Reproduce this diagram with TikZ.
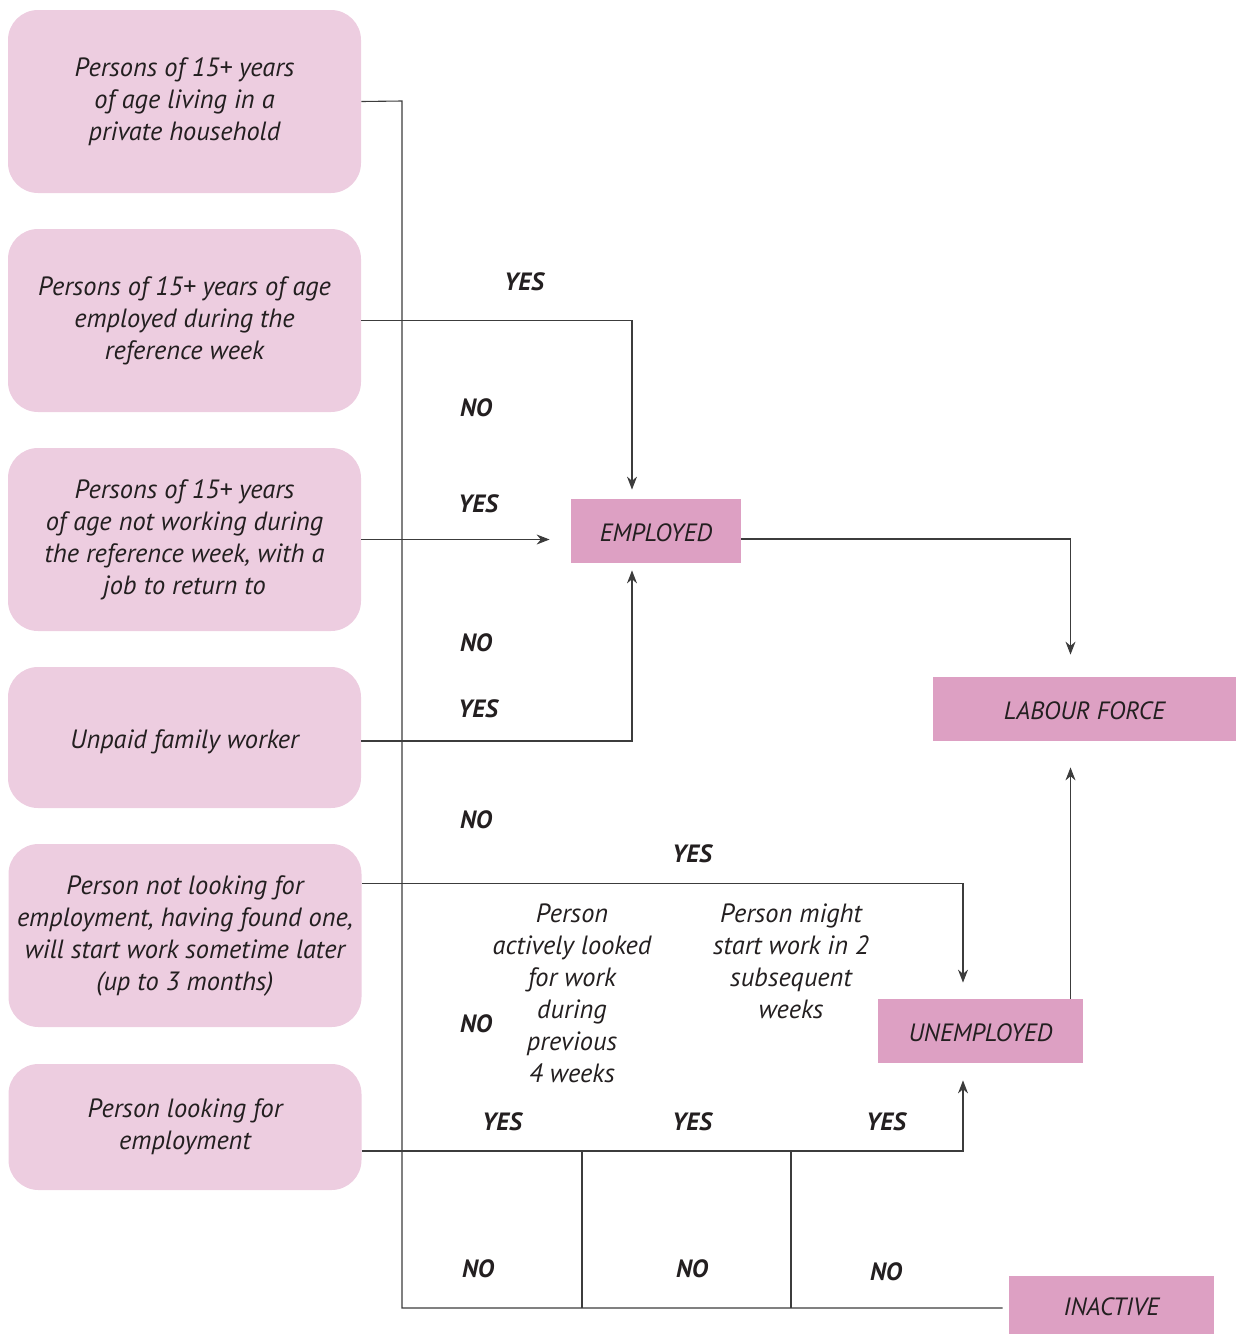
\documentclass[tikz,border=0pt]{standalone}
\usepackage{fontspec}
\setmainfont{PT Sans}
\usetikzlibrary{arrows.meta,positioning}
\definecolor{qpink}{HTML}{EDCDE0}
\definecolor{spink}{HTML}{DDA0C3}
\definecolor{ink}{HTML}{231F20}
\definecolor{wire}{HTML}{3C3C3C}
\tikzset{
	x=0.5pt, y=-0.5pt, semithick,
	question/.style ={rounded corners=15pt, fill=qpink, text=ink, align=center,
		minimum width=176.5pt, inner sep=2pt, execute at begin node={\rule{0pt}{13.5pt}},
		font=\itshape\fontsize{13.2}{16}\selectfont},
	status/.style ={fill=spink, text=ink, minimum height=32pt, text height=11pt, text depth=0.2pt,
		font=\itshape\fontsize{12.5}{14}\selectfont},
	ans/.style = {text=ink, font=\bfseries\itshape\fontsize{12.5}{14}\selectfont},
	note/.style = {text=ink, align=center, font=\itshape\fontsize{13.2}{16}\selectfont},
	wire/.style = {draw=wire, line width=0.55pt},
	arr/.style = {wire, -{Stealth[length=6.5pt,width=5pt]}}
}
\begin{document}
\begin{tikzpicture}
    \useasboundingbox (0,0) rectangle (1236,1334);

    % question boxes
    \node[question, minimum height=91.5pt] (b1) at (184.5,101.5) {Persons of 15+ years\\of age living in a\\private household};
    \node[question, minimum height=91.5pt] (b2) at (184.5,320.5) {Persons of 15+ years of age\\employed during the\\reference week};
    \node[question, minimum height=91.5pt] (b3) at (184.5,539.5) {Persons of 15+ years\\of age not working during\\the reference week, with a\\job to return to};
    \node[question, minimum height=70.5pt] (b4) at (184.5,737.5) {Unpaid family worker};
    \node[question, minimum height=91.5pt] (b5) at (185,935.5) {Person not looking for\\employment, having found one,\\will start work sometime later\\(up to 3 months)};
    \node[question, minimum height=63pt] (b6) at (185,1127) {Person looking for\\employment};

    % status boxes
    \node[status, minimum width=85pt] (emp) at (656,531) {EMPLOYED};
    \node[status, minimum width=151.5pt] (lab) at (1084.5,709) {LABOUR FORCE};
    \node[status, minimum width=102.5pt] (unemp) at (980.5,1031) {UNEMPLOYED};
    \node[status, minimum width=102.5pt, minimum height=29pt] (inact) at (1111.5,1305) {INACTIVE};

    % side notes
    \node[note] (n1) at (572,993) {Person\\actively looked\\for work\\during\\previous\\4 weeks};
    \node[note] (n2) at (791,961) {Person might\\start work in 2\\subsequent\\weeks};

    % spine and branch points
    \coordinate (sp) at (402,101);
    \coordinate (sb) at (402,1308);
    \coordinate (c1) at (582,1151);
    \coordinate (c2) at (791,1151);

    \draw[wire] (b1.east) -- (sp) -- (sb) -- ([xshift=-3pt]inact.west |- sb);
    \draw[wire] (c1) -- (c1 |- sb);
    \draw[wire] (c2) -- (c2 |- sb);

    \draw[arr, shorten >=4.5pt] (b2.east) -| ([xshift=-12pt]emp.north);
    \draw[arr, shorten >=10.5pt] (b3.east) -- (b3.east -| emp.west);
    \draw[arr, shorten >=3.5pt] ([yshift=-1.75pt]b4.east) -| ([xshift=-12pt]emp.south);
    \draw[arr, shorten >=11pt] ([yshift=-4pt]emp.east) -| ([xshift=-7pt]lab.north);
    \draw[arr, shorten >=13pt] ([xshift=-7pt]lab.south |- unemp.north) -- ([xshift=-7pt]lab.south);
    \draw[arr, shorten >=8pt] ([yshift=26pt]b5.east) -| ([xshift=-8.75pt]unemp.north);
    \draw[arr, shorten >=8.5pt] ([yshift=-12pt]b6.east) -| ([xshift=-8.75pt]unemp.south);

    % answers
    \node[ans] (y1) at (524,282) {YES};
    \node[ans] (n1a) at (476,408) {NO};
    \node[ans] (y2) at (478,504) {YES};
    \node[ans] (n2a) at (476,643) {NO};
    \node[ans] (y3) at (478,709) {YES};
    \node[ans] (n3a) at (476,820) {NO};
    \node[ans] (y4) at (692,854) {YES};
    \node[ans] (n4a) at (476,1024) {NO};
    \node[ans] (y5) at (502,1122) {YES};
    \node[ans] (y6) at (692,1122) {YES};
    \node[ans] (y7) at (886,1122) {YES};
    \node[ans] (n5a) at (478,1269) {NO};
    \node[ans] (n6a) at (692,1269) {NO};
    \node[ans] (n7a) at (886,1272) {NO};

\end{tikzpicture}
\end{document}
